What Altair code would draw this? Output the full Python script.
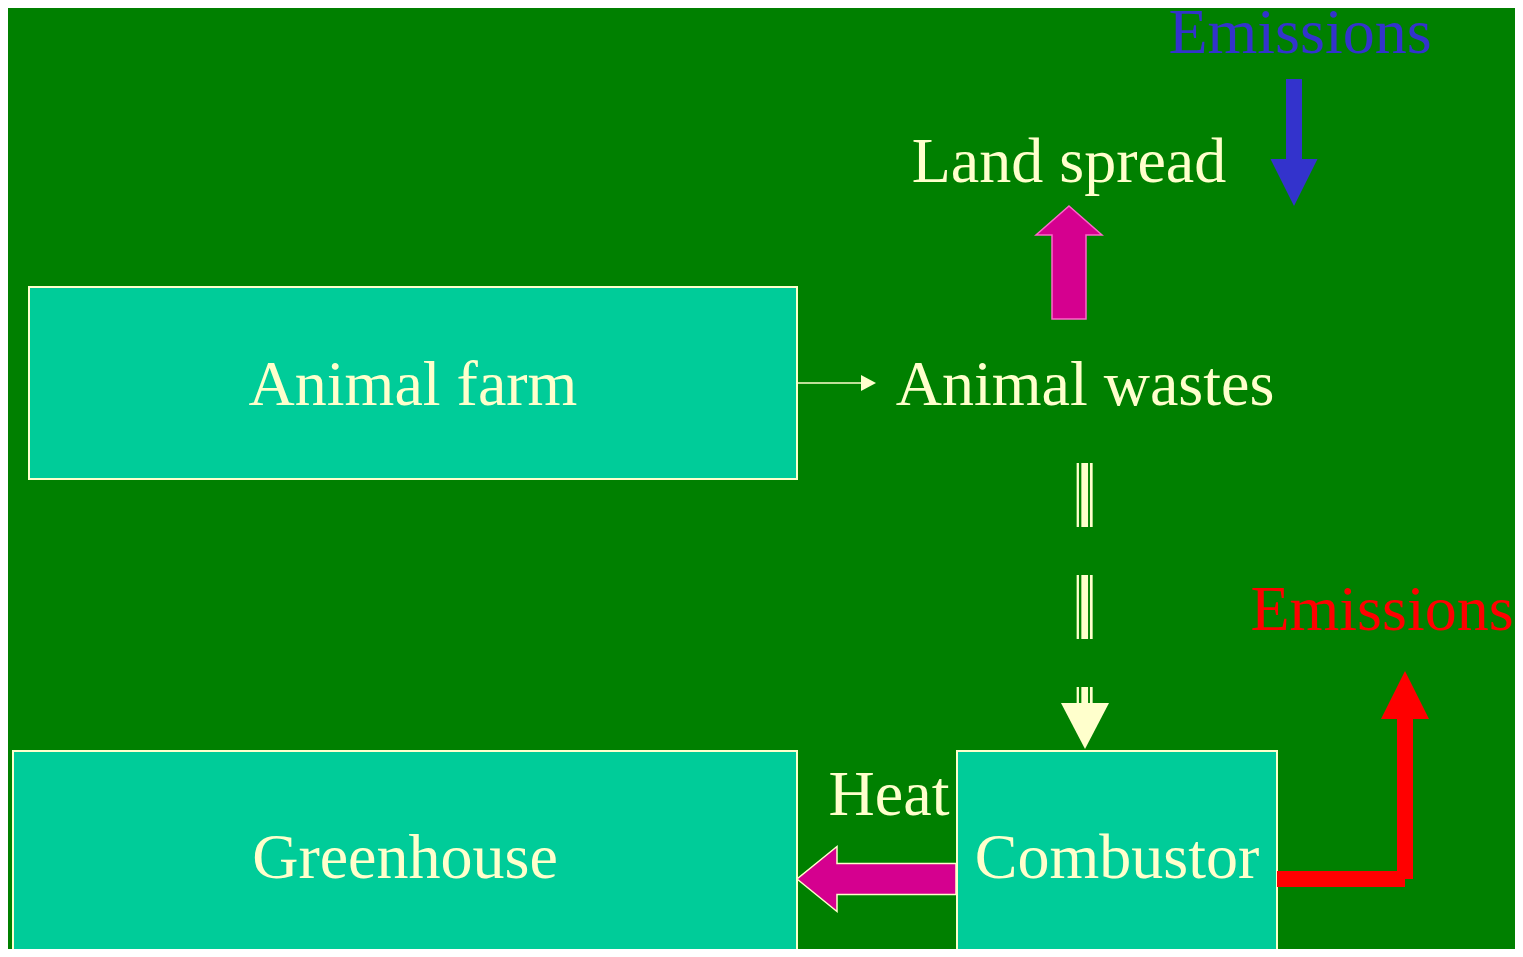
import altair as alt
import pandas as pd

# ---- page / coordinate frame (reference pixel coordinates) ----
W, H = 1507, 941
X0, X1 = 8, 1515
Y0, Y1 = 8, 949

BG = "#008000"
TEAL = "#00CC99"
CREAM = "#FFFFCC"
MAGENTA = "#D5008F"
PINK = "#FF66CC"
BLUE = "#3333CC"
RED = "#FF0000"
FONT = "Liberation Serif"

# ---- boxes ----
box_names = ["Animal farm", "Greenhouse", "Combustor"]
box_left = [29, 13, 957]
box_right = [797, 797, 1277]
box_top = [287, 751, 751]
box_bottom = [479, 975, 975]

# ---- labels ----
text_labels = ["Emissions", "Land spread", "Animal farm", "Animal wastes",
               "Emissions", "Heat", "Greenhouse", "Combustor"]
text_x = [1300, 1069, 413, 1085, 1382, 889, 405, 1117]
text_y = [53, 182, 405, 405, 630, 815, 878, 878]
text_color = [BLUE, CREAM, CREAM, CREAM, RED, CREAM, CREAM, CREAM]

# ---- arrows (tip position, direction, length, shaft/head half widths, head length) ----
arrow_names = ["land spread", "emissions in", "heat", "emissions out", "farm to wastes", "to combustor"]
arrow_tip_x = [1069, 1294, 797, 1405, 876, 1085]
arrow_tip_y = [206, 206, 879, 671, 383, 749]
arrow_dir = ["up", "down", "left", "up", "right", "down"]
arrow_len = [113, 127, 159, 208, 15, 46]
arrow_shaft = [17, 8, 15.5, 8, 0, 0]
arrow_head = [33, 23.5, 32.5, 24, 8, 24]
arrow_head_len = [29, 47, 40, 48, 15, 46]
arrow_fill = [MAGENTA, BLUE, MAGENTA, RED, CREAM, CREAM]
arrow_stroke = [PINK, None, CREAM, None, None, None]

# ---- red flue bar, thin connector, dashed triple line ----
bar_x = [1277]; bar_x2 = [1405]; bar_y = [871]; bar_y2 = [887]
link_x = [797]; link_x2 = [862]; link_y = [383]
dash_x = [1077.8, 1084.7, 1091.3]
dash_w = [2.3, 6.7, 2.7]
dash_y = [463]; dash_y2 = [705]

xs = alt.Scale(domain=[X0, X1], nice=False, zero=False)
ys = alt.Scale(domain=[Y0, Y1], nice=False, zero=False, reverse=True)


def arrow_path(d, L, sw, hw, hl):
    pts = [(0, 0), (hw, hl), (sw, hl), (sw, L), (-sw, L), (-sw, hl), (-hw, hl)]
    out = []
    for (px, py) in pts:
        if d == "up":
            q = (px, py)
        elif d == "down":
            q = (px, -py)
        elif d == "left":
            q = (py, px)
        else:
            q = (-py, px)
        out.append(q)
    return "M " + " L ".join(f"{a:.2f} {b:.2f}" for a, b in out) + " Z"


layers = []

boxes = pd.DataFrame({"name": box_names, "x": box_left, "x2": box_right,
                      "y": box_top, "y2": box_bottom})
layers.append(
    alt.Chart(boxes).mark_rect(fill=TEAL, stroke=CREAM, strokeWidth=2, clip=True).encode(
        x=alt.X("x:Q", scale=xs, axis=None), x2="x2:Q",
        y=alt.Y("y:Q", scale=ys, axis=None), y2="y2:Q")
)

bar = pd.DataFrame({"x": bar_x, "x2": bar_x2, "y": bar_y, "y2": bar_y2})
layers.append(
    alt.Chart(bar).mark_rect(fill=RED).encode(
        x=alt.X("x:Q", scale=xs, axis=None), x2="x2:Q",
        y=alt.Y("y:Q", scale=ys, axis=None), y2="y2:Q")
)

link = pd.DataFrame({"x": link_x, "x2": link_x2, "y": link_y})
layers.append(
    alt.Chart(link).mark_rule(color=CREAM, strokeWidth=1.5).encode(
        x=alt.X("x:Q", scale=xs, axis=None), x2="x2:Q",
        y=alt.Y("y:Q", scale=ys, axis=None))
)

for dx, dw in zip(dash_x, dash_w):
    dd = pd.DataFrame({"x": [dx], "y": dash_y, "y2": dash_y2})
    layers.append(
        alt.Chart(dd).mark_rule(color=CREAM, strokeWidth=dw, strokeDash=[64, 48],
                                strokeCap="butt").encode(
            x=alt.X("x:Q", scale=xs, axis=None),
            y=alt.Y("y:Q", scale=ys, axis=None), y2="y2:Q")
    )

for i in range(len(arrow_names)):
    path = arrow_path(arrow_dir[i], arrow_len[i], arrow_shaft[i], arrow_head[i], arrow_head_len[i])
    ad = pd.DataFrame({"x": [arrow_tip_x[i]], "y": [arrow_tip_y[i]]})
    kw = dict(shape=path, size=4, filled=True, fill=arrow_fill[i], opacity=1)
    if arrow_stroke[i] is not None:
        kw.update(stroke=arrow_stroke[i], strokeWidth=1.5)
    else:
        kw.update(strokeWidth=0)
    layers.append(
        alt.Chart(ad).mark_point(**kw).encode(
            x=alt.X("x:Q", scale=xs, axis=None),
            y=alt.Y("y:Q", scale=ys, axis=None))
    )

texts = pd.DataFrame({"label": text_labels, "x": text_x, "y": text_y, "c": text_color})
layers.append(
    alt.Chart(texts).mark_text(font=FONT, fontSize=64, align="center",
                               baseline="alphabetic").encode(
        x=alt.X("x:Q", scale=xs, axis=None),
        y=alt.Y("y:Q", scale=ys, axis=None),
        text="label:N",
        color=alt.Color("c:N", scale=None))
)

chart = alt.layer(*layers).properties(
    width=W, height=H, background=BG, padding=0,
    autosize=alt.AutoSizeParams(type="none"),
).configure_view(strokeWidth=0, fill=BG)

chart.save("out.html", embed_options={"renderer": "svg", "actions": False})
